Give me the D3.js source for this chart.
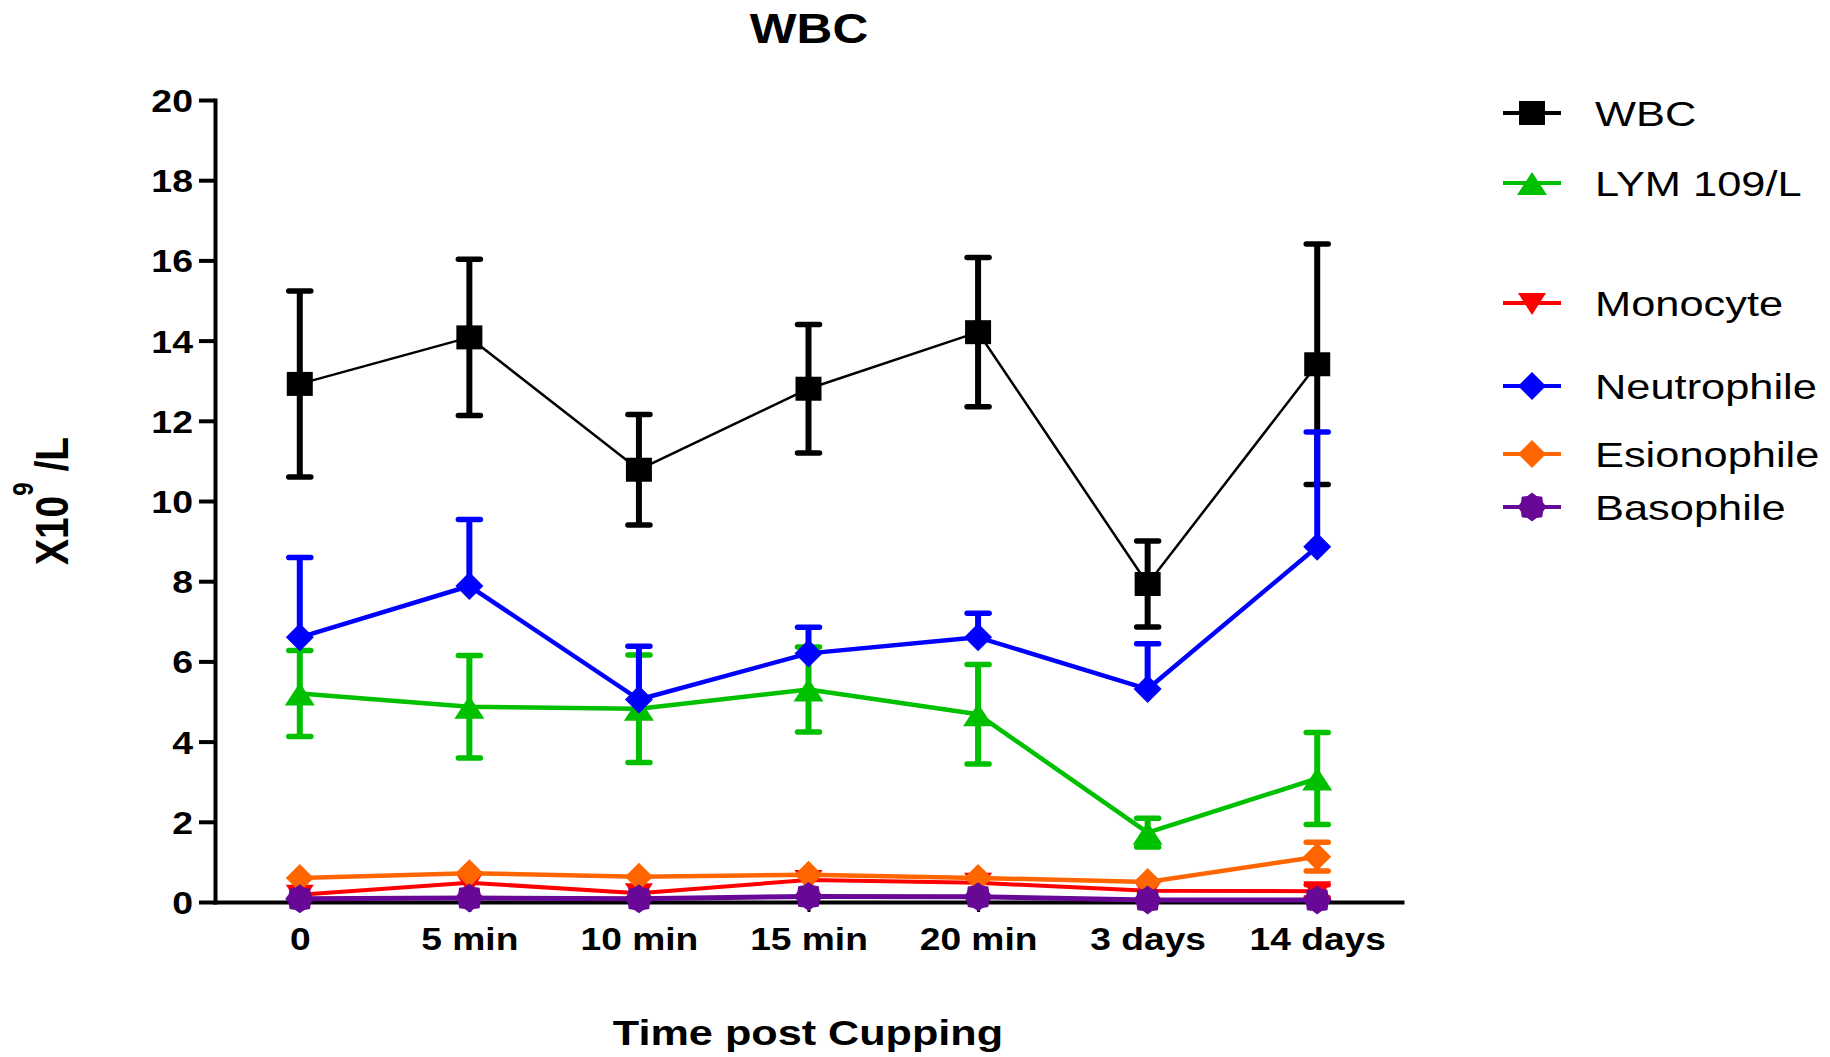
<!DOCTYPE html>
<html>
<head>
<meta charset="utf-8">
<script src="https://cdn.jsdelivr.net/npm/d3@7"></script>
<style>
body { margin: 0; background: #fff; }
svg { display: block; background: #fff; font-family: "Liberation Sans", Arial, sans-serif; }
</style>
</head>
<body>
<svg id="chart" width="1830" height="1057"></svg>
<script>
// data (mean, error bar length)
const time_points = ['0', '5 min', '10 min', '15 min', '20 min', '3 days', '14 days'];
const y_ticks = [0, 2, 4, 6, 8, 10, 12, 14, 16, 18, 20];

const wbc_mean = [12.92, 14.08, 10.78, 12.8, 14.21, 7.93, 13.41];
const wbc_err = [2.32, 1.95, 1.38, 1.6, 1.86, 1.07, 3.0];

const lym_mean = [5.2, 4.87, 4.82, 5.3, 4.68, 1.73, 3.08];
const lym_err = [1.07, 1.28, 1.34, 1.06, 1.24, 0.36, 1.15];

const mono_mean = [0.18, 0.48, 0.22, 0.55, 0.48, 0.28, 0.27];
const mono_err = [0, 0, 0, 0, 0, 0, 0.16];

const neut_mean = [6.6, 7.88, 5.05, 6.2, 6.6, 5.31, 8.86];
const neut_err = [1.99, 1.66, 1.33, 0.65, 0.6, 1.13, 2.86];

const eos_mean = [0.6, 0.72, 0.63, 0.68, 0.6, 0.5, 1.13];
const eos_err = [0, 0, 0, 0, 0, 0, 0.36];

const baso_mean = [0.08, 0.1, 0.08, 0.14, 0.13, 0.05, 0.05];
const baso_err = [0, 0, 0, 0, 0, 0, 0];

const series_names = ['WBC', 'LYM 109/L', 'Monocyte', 'Neutrophile', 'Esionophile', 'Basophile'];

// styles per series
const styles = {
    'WBC':         {color: '#000000', shape: 'square',   line: 2.5, dir: 'both'},
    'LYM 109/L':   {color: '#00c000', shape: 'triangle', line: 4.5, dir: 'both'},
    'Monocyte':    {color: '#ff0000', shape: 'tri_down', line: 4, dir: 'both'},
    'Neutrophile': {color: '#0000ff', shape: 'diamond',  line: 4.5, dir: 'up'},
    'Esionophile': {color: '#ff6600', shape: 'diamond',  line: 4.5, dir: 'both'},
    'Basophile':   {color: '#680896', shape: 'star',     line: 5, dir: 'both'}
};

const series = [
    {name: series_names[0], mean: wbc_mean, err: wbc_err},
    {name: series_names[1], mean: lym_mean, err: lym_err},
    {name: series_names[2], mean: mono_mean, err: mono_err},
    {name: series_names[3], mean: neut_mean, err: neut_err},
    {name: series_names[4], mean: eos_mean, err: eos_err},
    {name: series_names[5], mean: baso_mean, err: baso_err}
];

function marker_path(shape) {
    if (shape === 'square') return 'M-13,-12H13V12H-13Z';
    if (shape === 'triangle') return 'M0,-11L15,12L-15,12Z';
    if (shape === 'tri_down') return 'M-14,-10L14,-10L0,12Z';
    if (shape === 'diamond') return 'M0,-14L14,0L0,14L-14,0Z';
    // jagged round blob used by Prism for the last data set
    const pts = d3.range(16).map((k) => {
        const a = k * Math.PI / 8;
        const r = (k % 2 === 0) ? 14.5 : 12;
        return [r * Math.sin(a), -r * Math.cos(a)];
    });
    return 'M' + pts.map((p) => p[0].toFixed(2) + ',' + p[1].toFixed(2)).join('L') + 'Z';
}

const svg = d3.select('#chart');

const x = d3.scalePoint().domain(time_points).range([215, 1402]).padding(0.5);
const y = d3.scaleLinear().domain([0, 20]).range([902, 100]);

/* Axes */

const y_axis = svg.append('g')
    .attr('transform', 'translate(215,0)')
    .call(d3.axisLeft(y).tickValues(y_ticks).tickSize(16).tickSizeOuter(0).tickFormat(d3.format('d')));
y_axis.select('.domain').attr('stroke-width', 4).attr('stroke-linecap', 'square');
y_axis.selectAll('.tick line').attr('stroke-width', 4);
y_axis.selectAll('.tick text')
    .attr('x', -22 / 1.17)
    .attr('dy', '0.36em')
    .attr('transform', 'scale(1.17,1)')
    .style('font-size', '32px')
    .style('font-weight', 'bold')
    .style('font-family', '"Liberation Sans", Arial, sans-serif')
    .attr('fill', '#000');

const x_axis = svg.append('g')
    .attr('transform', 'translate(0,902)')
    .call(d3.axisBottom(x).tickSize(10).tickSizeOuter(0));
x_axis.select('.domain').attr('stroke-width', 4).attr('stroke-linecap', 'square');
x_axis.selectAll('.tick line').attr('stroke-width', 3);
x_axis.selectAll('.tick text')
    .attr('y', 48)
    .attr('dy', null)
    .attr('transform', 'scale(1.18,1)')
    .style('font-size', '31.5px')
    .style('font-weight', 'bold')
    .style('font-family', '"Liberation Sans", Arial, sans-serif')
    .attr('fill', '#000');

/* Series: line, error bars, markers */

const line = d3.line().x((d, i) => x(time_points[i])).y((d) => y(d));

series.forEach((s) => {
    const st = styles[s.name];
    const g = svg.append('g').attr('class', 'series');

    g.append('path')
        .datum(s.mean)
        .attr('fill', 'none')
        .attr('stroke', st.color)
        .attr('stroke-width', st.line)
        .attr('stroke-linejoin', 'round')
        .attr('d', line);

    const bars = s.mean.map((m, i) => ({i: i, m: m, e: s.err[i]})).filter((b) => b.e > 0);
    bars.forEach((b) => {
        const cx = x(time_points[b.i]);
        const lo = st.dir === 'up' ? b.m : b.m - b.e;
        const hi = b.m + b.e;
        g.append('line')
            .attr('x1', cx).attr('x2', cx)
            .attr('y1', y(lo)).attr('y2', y(hi))
            .attr('stroke', st.color).attr('stroke-width', 6);
        const ends = st.dir === 'up' ? [hi] : [lo, hi];
        ends.forEach((v) => {
            g.append('line')
                .attr('x1', cx - 11).attr('x2', cx + 11)
                .attr('y1', y(v)).attr('y2', y(v))
                .attr('stroke', st.color).attr('stroke-width', 5.5)
                .attr('stroke-linecap', 'round');
        });
    });

    g.selectAll('path.marker')
        .data(s.mean)
        .enter().append('path')
        .attr('class', 'marker')
        .attr('d', marker_path(st.shape))
        .attr('fill', st.color)
        .attr('transform', (d, i) => 'translate(' + x(time_points[i]) + ',' + y(d) + ')');
});

/* Texts */

svg.append('text')
    .attr('transform', 'translate(809,43) scale(1.18,1)')
    .attr('text-anchor', 'middle')
    .style('font-size', '42px')
    .style('font-weight', 'bold')
    .text('WBC');

svg.append('text')
    .attr('transform', 'translate(808,1045) scale(1.2,1)')
    .attr('text-anchor', 'middle')
    .style('font-size', '36px')
    .style('font-weight', 'bold')
    .text('Time post Cupping');

const y_label = svg.append('text')
    .attr('transform', 'translate(68,501) scale(1.2,1) rotate(-90)')
    .attr('text-anchor', 'middle')
    .style('font-size', '39px')
    .style('font-weight', 'bold');
y_label.append('tspan').text('X10');
y_label.append('tspan').attr('dy', -29).style('font-size', '24px').text('9');
y_label.append('tspan').attr('dy', 29).text(' /L');

/* Legend */

const legend_rows = [113, 183, 303, 386, 454, 507];
series.forEach((s, i) => {
    const st = styles[s.name];
    const row = legend_rows[i];
    const g = svg.append('g').attr('class', 'legend');
    g.append('line')
        .attr('x1', 1503).attr('x2', 1561)
        .attr('y1', row).attr('y2', row)
        .attr('stroke', st.color).attr('stroke-width', 4);
    g.append('path')
        .attr('d', marker_path(st.shape))
        .attr('fill', st.color)
        .attr('transform', 'translate(1532,' + row + ')');
    g.append('text')
        .attr('transform', 'translate(1595,' + (row + 12.5) + ') scale(1.24,1)')
        .style('font-size', '35px')
        .attr('fill', '#000')
        .text(s.name);
});
</script>
</body>
</html>
